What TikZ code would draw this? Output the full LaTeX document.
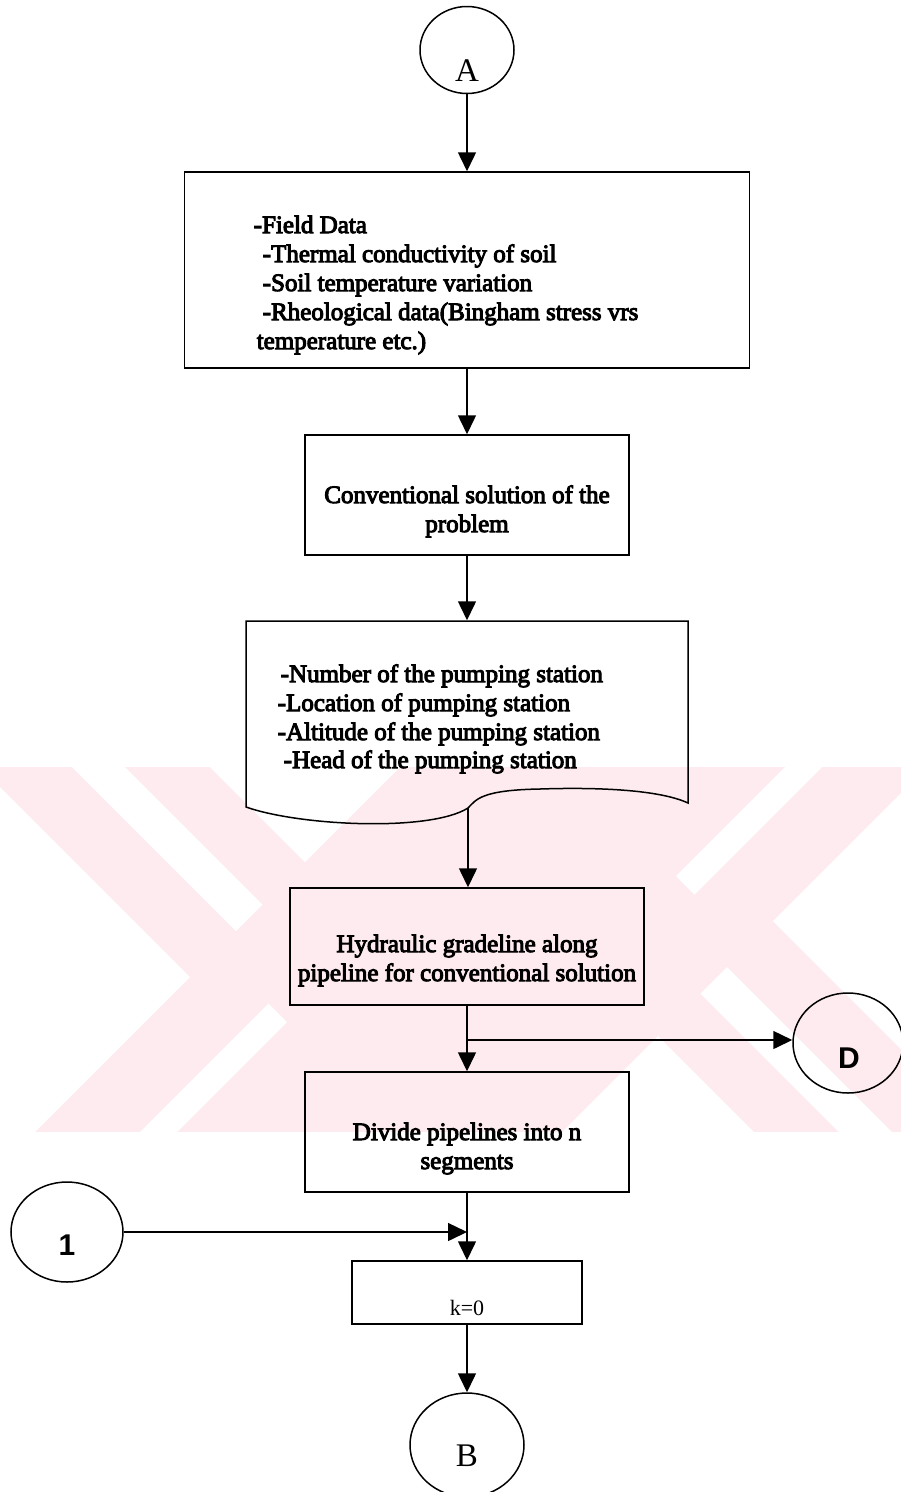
\documentclass[tikz,border=0pt]{standalone}
\usepackage{fontspec}
\setmainfont{Liberation Serif}
\newfontfamily\boxfont{Liberation Serif}[FakeBold=4]
\newfontfamily\labsans{Liberation Sans}
\usetikzlibrary{shapes.geometric,arrows.meta}
\definecolor{wmpink}{RGB}{253,235,239}
\begin{document}
\begin{tikzpicture}[x=1pt,y=-1pt,line width=1.5pt,
  flow/.style={draw,rectangle,inner sep=0pt},
  conn/.style={draw,ellipse,inner sep=0pt},
  txt/.style={inner sep=0pt,anchor=base,font=\boxfont\fontsize{25}{29}\selectfont},
  txtl/.style={txt,anchor=base west},
  serlab/.style={inner sep=0pt,font=\fontsize{33}{33}\selectfont},
  sanslab/.style={inner sep=0pt,font=\labsans\bfseries\fontsize{30}{30}\selectfont},
  arr/.style={-{Triangle[length=19pt,width=18pt]}}]
\useasboundingbox (0,0) rectangle (901,1492);

% background emblem
\begin{scope}
  \clip (0,767) rectangle (901,1132);
  \fill[wmpink] (0,767) rectangle (901,1132);
  \foreach \r in {0,180} {
    \begin{scope}[rotate around={\r:(481.5,949)}]
      \fill[white] (190,977) -- (-300,487) -- (-300,1467) -- cycle;
      \fill[white] (262.5,904.5) -- (236,931) -- (-364,331) -- (-337.5,304.5) -- cycle;
      \fill[white] (305,862) -- (-95,462) -- (705,462) -- cycle;
      \fill[white] (268.5,1003.5) -- (287,1022) -- (-113,1422) -- (-131.5,1403.5) -- cycle;
    \end{scope}
  }
\end{scope}

% connectors (circles)
\node[conn,minimum width=94pt,minimum height=87pt] (A) at (467,50) {};
\node[serlab] (Alab) at (467,71) {A};
\node[conn,minimum width=110pt,minimum height=100pt] (D) at (848,1043) {};
\node[sanslab] (Dlab) at (849,1058) {D};
\node[conn,minimum width=112pt,minimum height=100pt] (one) at (67,1232) {};
\node[sanslab] (onelab) at (67,1245) {1};
\node[conn,minimum width=114pt,minimum height=104pt] (B) at (467,1445) {};
\node[serlab] (Blab) at (467,1456) {B};

% process boxes
\node[flow,minimum width=565pt,minimum height=196pt] (field) at (467,270) {};
\node[txtl] (f1) at (253,233) {-Field Data};
\node[txtl] (f2) at (262,262) {-Thermal conductivity of soil};
\node[txtl] (f3) at (262,291) {-Soil temperature variation};
\node[txtl] (f4) at (262,320) {-Rheological data(Bingham stress vrs};
\node[txtl] (f5) at (256,349) {temperature etc.)};

\node[flow,minimum width=324pt,minimum height=120pt] (conv) at (467,495) {};
\node[txt] (c1) at (467,503) {Conventional solution of the};
\node[txt] (c2) at (467,532) {problem};

% document shape
\node[inner sep=0pt,minimum width=442pt,minimum height=186pt] (doc) at (467,714) {};
\draw (246,621) -- (688,621) -- (688,803)
  .. controls (660,790) and (600,787) .. (540,789)
  .. controls (480,790) and (476,800) .. (468,808)
  .. controls (430,832) and (300,826) .. (246,807) -- cycle;
\coordinate (docj) at (468,808);
\node[txtl] (d1) at (280,682) {-Number of the pumping station};
\node[txtl] (d2) at (277,711) {-Location of pumping station};
\node[txtl] (d3) at (277,740) {-Altitude of the pumping station};
\node[txtl] (d4) at (283,768) {-Head of the pumping station};

\node[flow,minimum width=354pt,minimum height=117pt] (hyd) at (467,946.5) {};
\node[txt] (h1) at (467,952) {Hydraulic gradeline along};
\node[txt] (h2) at (467,981) {pipeline for conventional solution};

\node[flow,minimum width=324pt,minimum height=120pt] (div) at (467,1132) {};
\node[txt] (v1) at (467,1140) {Divide pipelines into n};
\node[txt] (v2) at (467,1169) {segments};

\node[flow,minimum width=230pt,minimum height=63pt] (k0) at (467,1292.5) {};
\node[inner sep=0pt,anchor=base,font=\fontsize{22}{22}\selectfont] (k0t) at (467,1315) {k=0};

% flow lines
\draw[arr] (A.south) -- (field.north);
\draw[arr] (field.south) -- (conv.north);
\draw[arr] (conv.south) -- (doc.north);
\draw[arr] (docj) -- (docj |- hyd.north);
\draw[arr] (hyd.south) -- (div.north);
\coordinate (br) at (467,1040);
\draw[arr] (br) -- (br -| D.west);
\coordinate (mrg) at (467,1232);
\draw[arr] (one.east) -- (mrg);
\draw[arr] (div.south) -- (k0.north);
\draw[arr] (k0.south) -- (B.north);
\end{tikzpicture}
\end{document}
